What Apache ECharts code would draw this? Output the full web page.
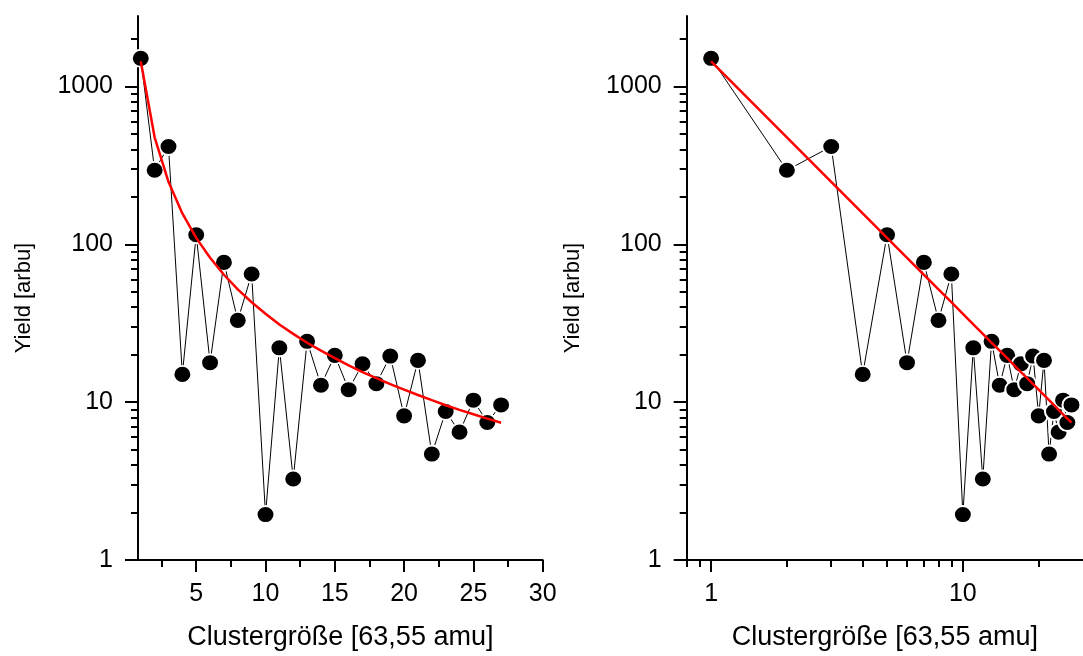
<!DOCTYPE html>
<html>
<head>
<meta charset="utf-8">
<script src="https://cdn.jsdelivr.net/npm/echarts@6/dist/echarts.min.js"></script>
<style>
html,body{margin:0;padding:0;background:#fff;}
#c{width:1083px;height:656px;}
</style>
</head>
<body>
<div id="c"></div>
<script>
// ---- data ----
const clusterSizes = [1,2,3,4,5,6,7,8,9,10,11,12,13,14,15,16,17,18,19,20,21,22,23,24,25,26,27];
const yields = [1510,295,417,15.0,115,17.8,76.9,33.0,64.9,1.94,22.1,3.26,24.3,12.8,19.8,12.0,17.5,13.1,19.6,8.19,18.4,4.69,8.73,6.46,10.3,7.44,9.61];
const fitYields = [1445,477,249,157,110,82.2,64.2,51.9,43.0,36.3,31.1,27.1,23.8,21.2,19.0,17.1,15.5,14.2,13.0,12.0,11.1,10.3,9.57,8.94,8.38,7.87,7.41];

// tick values
const yMajorTicks = [1,10,100,1000];
const yMinorTicks = [2,3,4,5,6,7,8,9,20,30,40,50,60,70,80,90,200,300,400,500,600,700,800,900,2000];
const xLinMajorTicks = [5,10,15,20,25,30];
const xLinMinorTicks = [2.5,7.5,12.5,17.5,22.5,27.5];
const xLogMajorTicks = [1,10];
const xLogMinorTicks = [0.8,0.9,2,3,4,5,6,7,8,9,20];

const xTitle = 'Clustergröße [63,55 amu]';
const yTitle = 'Yield [arbu]';

const FONT = "'Liberation Sans', Arial, sans-serif";
const pairs = (xs, ys) => xs.map((x, i) => [x, ys[i]]);

const axisLine = {show: true, onZero: false, lineStyle: {color: '#000', width: 2}};
const noLine = {show: false, onZero: false};

function yAxes(gridIndex) {
  return [
    {
      gridIndex, type: 'log', logBase: 10, min: 1, max: 2800, position: 'left', offset: 0,
      axisLine: axisLine,
      axisTick: {show: true, inside: false, length: 13, lineStyle: {color: '#000', width: 2}, customValues: yMajorTicks},
      axisLabel: {show: true, margin: 25, color: '#000', fontSize: 25, fontFamily: FONT, customValues: yMajorTicks,
                  formatter: v => String(Math.round(v))},
      splitLine: {show: false},
      name: yTitle, nameLocation: 'middle', nameGap: 103, nameRotate: 90,
      nameTextStyle: {color: '#000', fontSize: 22, fontFamily: FONT, padding: [0, 20, 0, 0]}
    },
    {
      gridIndex, type: 'log', logBase: 10, min: 1, max: 2800, position: 'left', offset: 0,
      axisLine: noLine,
      axisTick: {show: true, inside: false, length: 7, lineStyle: {color: '#000', width: 2}, customValues: yMinorTicks},
      axisLabel: {show: false},
      splitLine: {show: false}
    }
  ];
}

const option = {
  animation: false,
  backgroundColor: '#fff',
  grid: [
    {left: 138, top: 16, width: 404.7, height: 545, containLabel: false},
    {left: 686.7, top: 16, width: 404.2, height: 545, containLabel: false}
  ],
  xAxis: [
    {
      gridIndex: 0, type: 'value', min: 0.8, max: 30, position: 'bottom', offset: 0,
      axisLine: axisLine,
      axisTick: {show: true, length: 12, lineStyle: {color: '#000', width: 2}, customValues: xLinMajorTicks},
      axisLabel: {show: true, margin: 22, color: '#000', fontSize: 25, fontFamily: FONT, customValues: xLinMajorTicks},
      splitLine: {show: false},
      name: xTitle, nameLocation: 'middle', nameGap: 64,
      nameTextStyle: {color: '#000', fontSize: 27, fontFamily: FONT}
    },
    {
      gridIndex: 0, type: 'value', min: 0.8, max: 30, position: 'bottom', offset: 0,
      axisLine: noLine,
      axisTick: {show: true, length: 7, lineStyle: {color: '#000', width: 2}, customValues: xLinMinorTicks},
      axisLabel: {show: false},
      splitLine: {show: false}
    },
    {
      gridIndex: 1, type: 'log', logBase: 10, min: 0.8, max: 30, position: 'bottom', offset: 0,
      axisLine: axisLine,
      axisTick: {show: true, length: 12, lineStyle: {color: '#000', width: 2}, customValues: xLogMajorTicks},
      axisLabel: {show: true, margin: 22, color: '#000', fontSize: 25, fontFamily: FONT, customValues: xLogMajorTicks,
                  formatter: v => String(Math.round(v))},
      splitLine: {show: false},
      name: xTitle, nameLocation: 'middle', nameGap: 64,
      nameTextStyle: {color: '#000', fontSize: 27, fontFamily: FONT}
    },
    {
      gridIndex: 1, type: 'log', logBase: 10, min: 0.8, max: 30, position: 'bottom', offset: 0,
      axisLine: noLine,
      axisTick: {show: true, length: 7, lineStyle: {color: '#000', width: 2}, customValues: xLogMinorTicks},
      axisLabel: {show: false},
      splitLine: {show: false}
    }
  ],
  yAxis: [...yAxes(0), ...yAxes(1)],
  series: [
    {
      type: 'line', xAxisIndex: 0, yAxisIndex: 0, data: pairs(clusterSizes, yields),
      symbol: 'circle', symbolSize: [18, 17],
      lineStyle: {color: '#000', width: 1},
      itemStyle: {color: '#000', borderColor: '#fff', borderWidth: 2},
      z: 2
    },
    {
      type: 'line', xAxisIndex: 0, yAxisIndex: 0, data: pairs(clusterSizes, fitYields),
      showSymbol: false, symbol: 'none',
      lineStyle: {color: '#ff0000', width: 2.5},
      z: 3
    },
    {
      type: 'line', xAxisIndex: 2, yAxisIndex: 2, data: pairs(clusterSizes, yields),
      symbol: 'circle', symbolSize: [18, 17],
      lineStyle: {color: '#000', width: 1},
      itemStyle: {color: '#000', borderColor: '#fff', borderWidth: 2},
      z: 2
    },
    {
      type: 'line', xAxisIndex: 2, yAxisIndex: 2, data: pairs(clusterSizes, fitYields),
      showSymbol: false, symbol: 'none',
      lineStyle: {color: '#ff0000', width: 2.5},
      z: 3
    }
  ]
};

const chart = echarts.init(document.getElementById('c'), null, {renderer: 'canvas'});
chart.setOption(option);
</script>
</body>
</html>
